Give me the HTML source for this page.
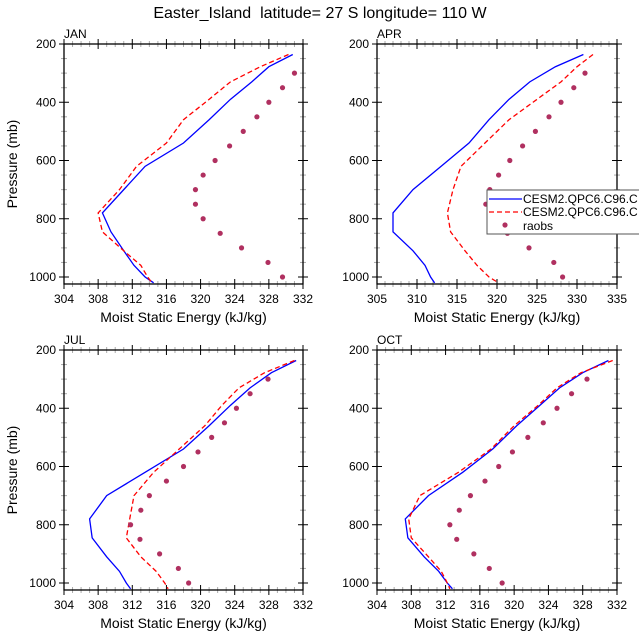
<!DOCTYPE html>
<html><head><meta charset="utf-8"><style>
body{margin:0;background:#fff}
svg{display:block;font-family:"Liberation Sans",sans-serif}
</style></head><body>
<svg id="c" width="639" height="639" viewBox="0 0 639 639">
<text x="320" y="18" text-anchor="middle" font-size="16">Easter_Island&#160; latitude= 27 S longitude= 110 W</text>
</svg>
<script>
const levels=[236,278,330,390,460,540,620,700,780,845,910,960,1000,1020];
const obsLevelsA=[300,350,400,450,500,550,600,650,700,750,800,850,900,950,1000];
const obsLevelsB=[300,350,400,450,500,550,600,650,700,750,800,825,850,900,950,1000];
const janModel1=[330.8,328,326,323.5,321,318,313.5,311,308.5,309.5,311,312.2,313.5,314.5];
const janModel2=[330.3,327,323.5,321,318,316,312.5,310.5,308,308.5,311,313,313.8,314.3];
const janObs=[331,329.6,328,326.6,325,323.4,321.7,320.3,319.4,319.4,320.3,322.3,324.8,327.9,329.6];
const aprModel1=[330.8,327.3,324.1,321.5,319,316.5,313,309.5,307,307,309.5,311,311.7,312.2];
const aprModel2=[332,330,328,325,321.5,318.5,315.5,314.5,313.8,314.2,316,317.5,319,320.2];
const aprObs=[331,329.6,328,326.5,324.8,323.2,321.6,320.2,319.1,318.6,319.6,321,321.3,324,327.1,328.2];
const julModel1=[331.2,328.3,325.8,323.5,321,318,313.5,309,307,307.3,309,310.5,311.3,311.8];
const julModel2=[331,327.5,324.5,322.5,320.5,317.5,314.5,312.2,311.7,311.3,313,314.8,315.8,316.2];
const julObs=[327.9,325.8,324.2,322.8,321.3,319.7,318,316,314,313,311.8,312.9,315.2,317.4,318.6];
const octModel1=[331,328,325.3,323,320.3,317.5,314,310,307.3,307.6,309.5,311.2,312.2,312.8];
const octModel2=[331.5,327.8,325,322.8,320,317.3,313.5,309,307.7,308,310,311.5,312.2,312.5];
const octObs=[328.5,326.7,325,323.4,321.6,319.8,318.2,316.6,314.9,313.6,312.5,313.3,315.3,317.1,318.6];
const yTicks=[200,400,600,800,1000];

const NS='http://www.w3.org/2000/svg';
const svg=document.getElementById('c');
function mk(tag,attrs,parent){const e=document.createElementNS(NS,tag);for(const k in attrs)e.setAttribute(k,attrs[k]);(parent||svg).appendChild(e);return e;}

const panels=[
 {id:'jan',label:'JAN',x0:64,x1:303,y0:44,xmin:304,xmax:332,maj:4,m1:janModel1,m2:janModel2,obs:janObs,ol:obsLevelsA,ylab:true,legend:false},
 {id:'apr',label:'APR',x0:377,x1:617,y0:44,xmin:305,xmax:335,maj:5,m1:aprModel1,m2:aprModel2,obs:aprObs,ol:obsLevelsB,ylab:false,legend:true},
 {id:'jul',label:'JUL',x0:64,x1:303,y0:350,xmin:304,xmax:332,maj:4,m1:julModel1,m2:julModel2,obs:julObs,ol:obsLevelsA,ylab:true,legend:false},
 {id:'oct',label:'OCT',x0:377,x1:617,y0:350,xmin:304,xmax:332,maj:4,m1:octModel1,m2:octModel2,obs:octObs,ol:obsLevelsA,ylab:false,legend:false}
];
const pxPerMb=0.29125, pmax=1024;
panels.forEach(p=>{
 const g=mk('g',{});
 
 
 const X=v=>p.x0+(v-p.xmin)/(p.xmax-p.xmin)*(p.x1-p.x0);
 const Y=v=>p.y0+(v-200)*pxPerMb;
 const yb=Y(pmax);
 for(let v=p.xmin;v<=p.xmax+1e-6;v+=1){
  const major=Math.abs((v-p.xmin)%p.maj)<1e-6;const L=major?5:3;const c=major?'#000':'#aaa';
  const x=X(v);
  mk('line',{x1:x,x2:x,y1:yb-L,y2:yb+L,stroke:c,'stroke-width':1},g);
  mk('line',{x1:x,x2:x,y1:p.y0-L,y2:p.y0+L,stroke:c,'stroke-width':1},g);
  if(major){const t=mk('text',{x:x,y:yb+19,'text-anchor':'middle','font-size':12},g);t.textContent=v;
   }
 }
 for(let v=200;v<=1000;v+=50){
  const major=v%200===0;const L=major?5:3;const c=major?'#000':'#aaa';const y=Y(v);
  mk('line',{x1:p.x0-L,x2:p.x0+L,y1:y,y2:y,stroke:c,'stroke-width':1},g);
  mk('line',{x1:p.x1-L,x2:p.x1+L,y1:y,y2:y,stroke:c,'stroke-width':1},g);
 }
 yTicks.forEach(v=>{const t=mk('text',{x:p.x0-8,y:Y(v)+4,'text-anchor':'end','font-size':12},g);t.textContent=v;
  });
 const fr=mk('rect',{x:p.x0,y:p.y0,width:p.x1-p.x0,height:yb-p.y0,fill:'none',stroke:'#000','stroke-width':1.3},g);
 
 const lb=mk('text',{x:p.x0,y:p.y0-6,'font-size':12},g);lb.textContent=p.label;
 
 const xt=mk('text',{x:(p.x0+p.x1)/2,y:yb+38,'text-anchor':'middle','font-size':14},g);xt.textContent='Moist Static Energy (kJ/kg)';
 
 if(p.ylab){const cy=(p.y0+yb)/2;const yt=mk('text',{x:17,y:cy,'text-anchor':'middle','font-size':14,transform:`rotate(-90 17 ${cy})`},g);yt.textContent='Pressure (mb)';
  }
 const l1=mk('polyline',{points:p.m1.map((v,i)=>X(v)+','+Y(levels[i])).join(' '),fill:'none',stroke:'#0000ff','stroke-width':1.3},g);
 
 const l2=mk('polyline',{points:p.m2.map((v,i)=>X(v)+','+Y(levels[i])).join(' '),fill:'none',stroke:'#ff0000','stroke-width':1.3,'stroke-dasharray':'5,3'},g);
 
 p.obs.forEach((v,i)=>{const c=mk('circle',{cx:X(v),cy:Y(p.ol[i]),r:2.6,fill:'#b03060'},g);
  });
 if(p.legend){
  const lg=mk('g',{},g);
  mk('rect',{x:487,y:190,width:160,height:44,fill:'#fff',stroke:'#555','stroke-width':1},lg);
  mk('line',{x1:489,x2:522,y1:199,y2:199,stroke:'#0000ff','stroke-width':1.3},lg);
  mk('line',{x1:489,x2:522,y1:212,y2:212,stroke:'#ff0000','stroke-width':1.3,'stroke-dasharray':'5,3'},lg);
  mk('circle',{cx:505,cy:225,r:2.6,fill:'#b03060'},lg);
  const a=mk('text',{x:523,y:203,'font-size':12},lg);a.textContent='CESM2.QPC6.C96.C';
  
  const b=mk('text',{x:523,y:216,'font-size':12},lg);b.textContent='CESM2.QPC6.C96.C';
  
  const r=mk('text',{x:523,y:230,'font-size':12},lg);r.textContent='raobs';
  
 }
});
</script>
</body></html>
